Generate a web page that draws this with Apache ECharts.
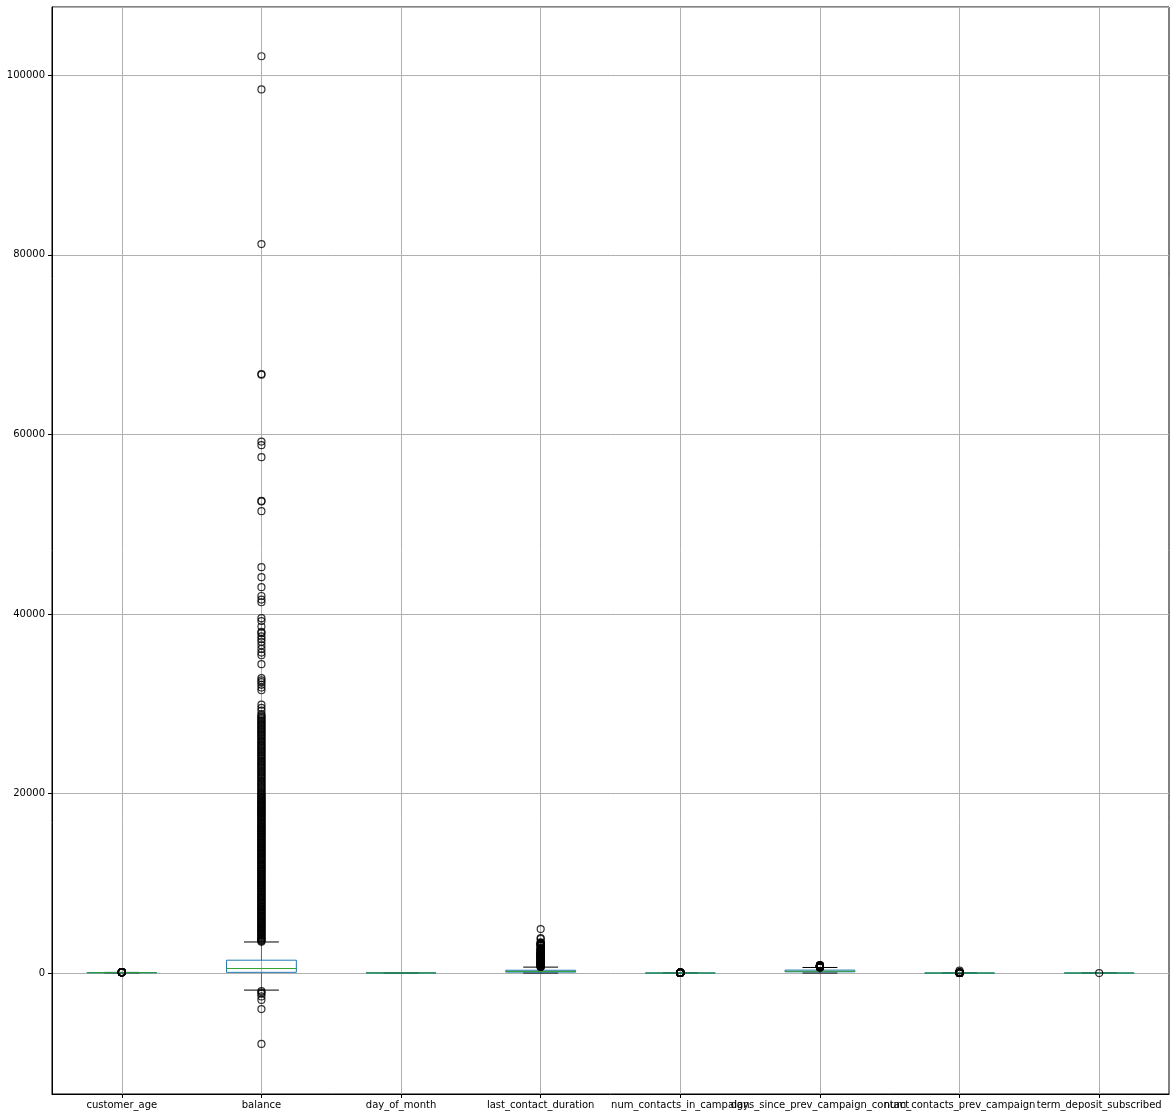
<!DOCTYPE html>
<html><head><meta charset="utf-8">
<script src="https://cdn.jsdelivr.net/npm/echarts@6/dist/echarts.min.js"></script>
<style>html,body{margin:0;padding:0;background:#fff}#c{width:1175px;height:1119px}</style>
</head><body><div id="c"></div>
<script>
const categories = ['customer_age','balance','day_of_month','last_contact_duration','num_contacts_in_campaign','days_since_prev_campaign_contact','num_contacts_prev_campaign','term_deposit_subscribed'];

// [lower whisker, Q1, median, Q3, upper whisker]
const ageStats = [18, 33, 39, 48, 70];
const balanceStats = [-1900, 78, 500, 1430, 3460];
const dayStats = [1, 8, 16, 21, 31];
const durationStats = [0, 103, 180, 310, 660];
const campaignStats = [1, 1, 2, 3, 6];
const pdaysStats = [1, 133, 195, 327, 619];
const previousStats = [0, 0, 0, 0, 0];
const depositStats = [0, 0, 0, 0, 0];

const ageOutliers = [71,72,73,74,75,76,77,78,79,80,81,82,83,84,85,86,87,88,89,90,92,93,94,95,97];
const balanceOutliers = [102120, 98420, 81200, 66720, 66650, 59200, 58800, 57460, 52590, 52530, 51450, 45210, 44100, 42980, 42000, 41600, 41300,
  39530, 39200, 38600, 38000, 37860, 37500, 37200, 36900, 36500, 36100, 35700, 35400, 34400, 32850, 32600, 32400, 32100, 31800, 31500,
  29890, 29540, 29220, 28830, 28680, 28510, 28370, 28240, 28090, 27960, 27830, 27680, 27550, 27410, 27270, 27140, 26990, 26860, 26730,
  26580, 26450, 26310, 26170, 26040, 25890, 25760, 25630, 25480, 25350, 25210, 25070, 24940, 24790, 24660, 24530, 24380, 24250, 24110,
  23970, 23840, 23690, 23560, 23420, 23280, 23150, 23010, 22870, 22740, 22590, 22460, 22330, 22180, 22040, 21910, 21770, 21640, 21490,
  21360, 21230, 21080, 20950, 20810, 20680, 20540, 20390, 20270, 20130,
  19990, 19880, 19790, 19680, 19560, 19490, 19380, 19270, 19190, 19080, 18960, 18890, 18780, 18660, 18590, 18470, 18390, 18280, 18160,
  18090, 17970, 17890, 17780, 17670, 17590, 17480, 17360, 17290, 17180, 17070, 16990, 16880, 16770, 16690, 16580, 16460, 16390, 16280,
  16160, 16090, 15970, 15890, 15780, 15660, 15590, 15470, 15380, 15280, 15170, 15090, 14980, 14860, 14790, 14680, 14570, 14490, 14360,
  14290, 14180, 14070, 13990, 13880, 13770, 13680, 13590, 13460, 13390, 13280, 13170, 13090, 12960, 12890, 12780, 12670, 12590, 12480,
  12370, 12290, 12160, 12080, 11990, 11870, 11790, 11660, 11590, 11480, 11370, 11280, 11190, 11060, 10990, 10880, 10770, 10690, 10580,
  10470, 10390, 10280, 10170, 10090, 9980, 9860, 9770, 9690, 9560, 9480, 9370, 9260, 9180, 9070, 8980, 8860, 8770, 8690, 8560, 8470,
  8380, 8260, 8170, 8080, 7960, 7880, 7770, 7690, 7570, 7460, 7370, 7280, 7160, 7070, 6980, 6860, 6790, 6670, 6580, 6460, 6370, 6290,
  6170, 6080, 5960, 5880, 5790, 5680, 5590, 5470, 5400, 5290, 5180, 5100, 5010, 4890, 4810, 4700, 4590, 4510, 4420, 4300, 4210, 4130,
  4010, 3920, 3840, 3730, 3650, 3560, 3480,
  -2000, -2150, -2300, -2600, -3000, -4010, -7900];
const dayOutliers = [];
const durationOutliers = [4900, 3880, 3790, 3420, 3370, 3320, 3280, 3250, 3180, 3100, 3090, 3080, 3030, 2870, 2770, 2760, 2690, 2650, 2620, 2520,
  2460, 2450, 2430, 2370, 2300, 2260, 2220, 2190, 2150, 2120, 2090, 2050, 2030, 1990, 1960, 1930, 1880, 1850, 1820, 1790, 1740, 1710, 1680,
  1640, 1600, 1570, 1530, 1490, 1460, 1420, 1390, 1350, 1310, 1280, 1240, 1210, 1170, 1130, 1100, 1060, 1030, 990, 960, 920, 890, 850, 820,
  780, 750, 710, 690, 670];
const campaignOutliers = [7,8,9,10,11,12,13,14,15,16,17,18,19,20,21,22,23,24,25,26,27,28,29,30,31,32,33,34,35,36,37,38,39,41,43,44,46,50,51,55,58,63];
const pdaysOutliers = [624,626,630,638,648,651,656,667,670,680,683,687,690,701,717,728,749,761,771,775,778,782,791,805,828,831,838,842,850,854,871];
const previousOutliers = [1,2,3,4,5,6,7,8,9,10,11,12,13,14,15,16,17,18,19,20,21,22,23,24,25,26,27,28,29,30,32,35,37,38,40,41,51,55,58,275];
const depositOutliers = [1];

const yTickStep = 20000;

const allStats = [ageStats, balanceStats, dayStats, durationStats, campaignStats, pdaysStats, previousStats, depositStats];
const allOutliers = [ageOutliers, balanceOutliers, dayOutliers, durationOutliers, campaignOutliers, pdaysOutliers, previousOutliers, depositOutliers];

const boxData = allStats.map((s, i) => [i].concat(s));
const flierData = [];
allOutliers.forEach((arr, i) => arr.forEach(v => flierData.push([i, v])));

const BLUE = '#1f77b4', GREEN = '#2ca02c';

function renderBox(params, api) {
  const x = api.value(0);
  const lo = api.coord([x, api.value(1)]);
  const q1 = api.coord([x, api.value(2)]);
  const md = api.coord([x, api.value(3)]);
  const q3 = api.coord([x, api.value(4)]);
  const hi = api.coord([x, api.value(5)]);
  const bw = api.size([1, 0])[0];
  const hb = bw * 0.25, hc = bw * 0.125;
  const cx = lo[0];
  const ls = c => ({stroke: c, lineWidth: 1, fill: null});
  return {type: 'group', children: [
    {type: 'line', shape: {x1: cx, y1: q1[1], x2: cx, y2: lo[1]}, style: ls(BLUE)},
    {type: 'line', shape: {x1: cx, y1: q3[1], x2: cx, y2: hi[1]}, style: ls(BLUE)},
    {type: 'line', shape: {x1: cx - hc, y1: lo[1], x2: cx + hc, y2: lo[1]}, style: ls('#000')},
    {type: 'line', shape: {x1: cx - hc, y1: hi[1], x2: cx + hc, y2: hi[1]}, style: ls('#000')},
    {type: 'rect', shape: {x: cx - hb, y: q3[1], width: 2 * hb, height: q1[1] - q3[1]}, style: {stroke: BLUE, lineWidth: 1, fill: 'none'}},
    {type: 'line', shape: {x1: cx - hb, y1: md[1], x2: cx + hb, y2: md[1]}, style: ls(GREEN)}
  ]};
}

const chart = echarts.init(document.getElementById('c'), null, {renderer: 'canvas'});
chart.setOption({
  animation: false,
  backgroundColor: '#fff',
  grid: {left: 52, right: 6, top: 7, bottom: 25, show: true, borderColor: '#000', borderWidth: 1, containLabel: false},
  xAxis: {
    type: 'category', data: categories, boundaryGap: true,
    axisLine: {show: true, onZero: false, lineStyle: {color: '#000'}},
    axisTick: {show: true, alignWithLabel: true, length: 4, lineStyle: {color: '#000'}},
    axisLabel: {interval: 0, hideOverlap: false, color: '#000', fontSize: 10, fontFamily: 'DejaVu Sans', margin: 6},
    splitLine: {show: true, alignWithLabel: true, interval: 0, lineStyle: {color: '#b0b0b0', width: 1}}
  },
  yAxis: {
    type: 'value', min: -13474, max: 107606, splitNumber: 6, minInterval: yTickStep, maxInterval: yTickStep,
    axisLine: {show: true, lineStyle: {color: '#000'}},
    axisTick: {show: true, length: 4, lineStyle: {color: '#000'}},
    axisLabel: {showMinLabel: false, showMaxLabel: false, color: '#000', fontSize: 10, fontFamily: 'DejaVu Sans', margin: 7,
      formatter: v => String(v)},
    splitLine: {show: true, lineStyle: {color: '#b0b0b0', width: 1}}
  },
  series: [
    {type: 'custom', renderItem: renderBox, data: boxData, encode: {x: 0, y: [1, 2, 3, 4, 5]}, z: 2, clip: true},
    {type: 'scatter', data: flierData, symbol: 'circle', symbolSize: 7, z: 3, large: false,
     itemStyle: {color: 'rgba(0,0,0,0)', borderColor: '#000', borderWidth: 1.2}, silent: true}
  ]
});
</script>
</body></html>
